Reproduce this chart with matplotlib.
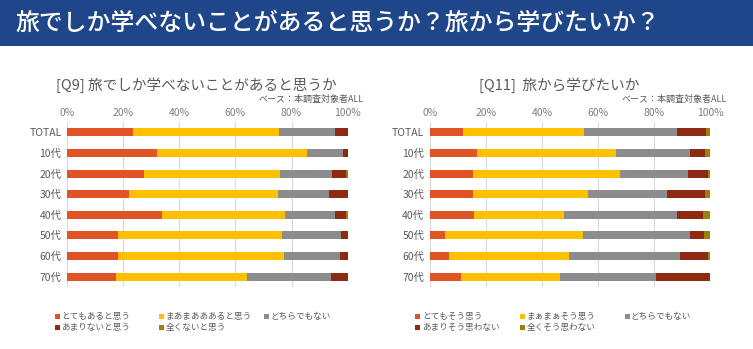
import matplotlib
matplotlib.use("Agg")
import matplotlib.pyplot as plt
from matplotlib.patches import Rectangle
import numpy as np

plt.rcParams['font.family'] = ['Noto Sans CJK JP', 'DejaVu Sans']

# データ
categories = ["TOTAL", "10代", "20代", "30代", "40代", "50代", "60代", "70代"]

q9_labels = ["とてもあると思う", "まあまあああると思う", "どちらでもない", "あまりないと思う", "全くないと思う"]
q9_very = [23.6, 31.9, 27.4, 22.1, 34.0, 18.3, 18.3, 17.5]
q9_some = [51.9, 53.7, 48.6, 53.2, 43.8, 58.3, 59.0, 46.5]
q9_neutral = [20.1, 12.6, 18.3, 18.0, 17.8, 21.1, 19.8, 30.1]
q9_notmuch = [4.4, 1.8, 5.2, 6.7, 3.7, 2.3, 2.9, 5.9]
q9_none = [0.0, 0.0, 0.5, 0.0, 0.7, 0.0, 0.0, 0.0]

q11_labels = ["とてもそう思う", "まぁまぁそう思う", "どちらでもない", "あまりそう思わない", "全くそう思わない"]
q11_very = [12.0, 16.7, 15.4, 15.3, 15.9, 5.6, 6.7, 11.2]
q11_some = [43.0, 49.7, 52.4, 41.1, 32.1, 49.0, 43.1, 35.2]
q11_neutral = [33.2, 26.4, 24.1, 28.0, 40.2, 38.2, 39.3, 34.2]
q11_notmuch = [10.4, 5.3, 7.4, 13.7, 9.2, 4.9, 10.2, 19.4]
q11_none = [1.4, 1.9, 0.7, 1.9, 2.6, 2.3, 0.7, 0.0]

colors = ["#E05327", "#FFC000", "#8C8C8C", "#8E2A12", "#A07E0C"]
text_gray = "#595959"

W, H = 753, 349
fig = plt.figure(figsize=(W / 100, H / 100), dpi=100)
fig.patch.set_facecolor("white")

# タイトル帯
fig.patches.append(Rectangle((0, 1 - 46 / H), 1, 46 / H, transform=fig.transFigure,
                             facecolor="#1F4689", edgecolor="none"))
fig.text(15 / W, 1 - 23 / H, "旅でしか学べないことがあると思うか？旅から学びたいか？",
         color="white", fontsize=17.2, fontweight="medium", va="center", ha="left")


def draw_chart(x0, title, series, labels, leg_x):
    ax = fig.add_axes([x0 / W, 62 / H, 280.7 / W, 165 / H])
    y = np.arange(len(categories))
    left = np.zeros(len(categories))
    for vals, col in zip(series, colors):
        vals = np.array(vals)
        ax.barh(y, vals, left=left, height=0.39, color=col, zorder=3)
        left += vals
    ax.set_xlim(0, 100)
    ax.set_ylim(len(categories) - 0.5, -0.5)
    ax.set_yticks(y)
    ax.set_yticklabels(categories, fontsize=7.5, color=text_gray)
    ax.set_xticks(np.arange(0, 101, 20))
    ax.set_xticklabels([f"{v}%" for v in range(0, 101, 20)], fontsize=7.5, color="#7F7F7F")
    ax.xaxis.tick_top()
    ax.tick_params(length=0, pad=4)
    ax.tick_params(axis="x", pad=3)
    ax.grid(axis="x", color="#D9D9D9", linewidth=0.8, zorder=0)
    for s in ax.spines.values():
        s.set_visible(False)

    cx = x0 + 129
    fig.text(cx / W, 1 - 85 / H, title, fontsize=10.5, color=text_gray, ha="center", va="center")
    fig.text((x0 + 297) / W, 1 - 99 / H, "ベース：本調査対象者ALL", fontsize=6.5,
             color=text_gray, ha="right", va="center")

    # 凡例
    for i, (lab, col) in enumerate(zip(labels, colors)):
        lx = leg_x + (i % 3) * 104.5
        ly = 316 + (i // 3) * 11.5
        fig.patches.append(Rectangle(((lx - 2.5) / W, 1 - (ly + 2.5) / H), 5 / W, 5 / H,
                                     transform=fig.transFigure, facecolor=col, edgecolor="none"))
        fig.text((lx + 4) / W, 1 - ly / H, lab, fontsize=6.2, color=text_gray,
                 ha="left", va="center")


draw_chart(67, "[Q9] 旅でしか学べないことがあると思うか",
           [q9_very, q9_some, q9_neutral, q9_notmuch, q9_none], q9_labels, 57)
draw_chart(429.7, "[Q11]  旅から学びたいか",
           [q11_very, q11_some, q11_neutral, q11_notmuch, q11_none], q11_labels, 418)

fig.savefig("out.png", dpi=100)
